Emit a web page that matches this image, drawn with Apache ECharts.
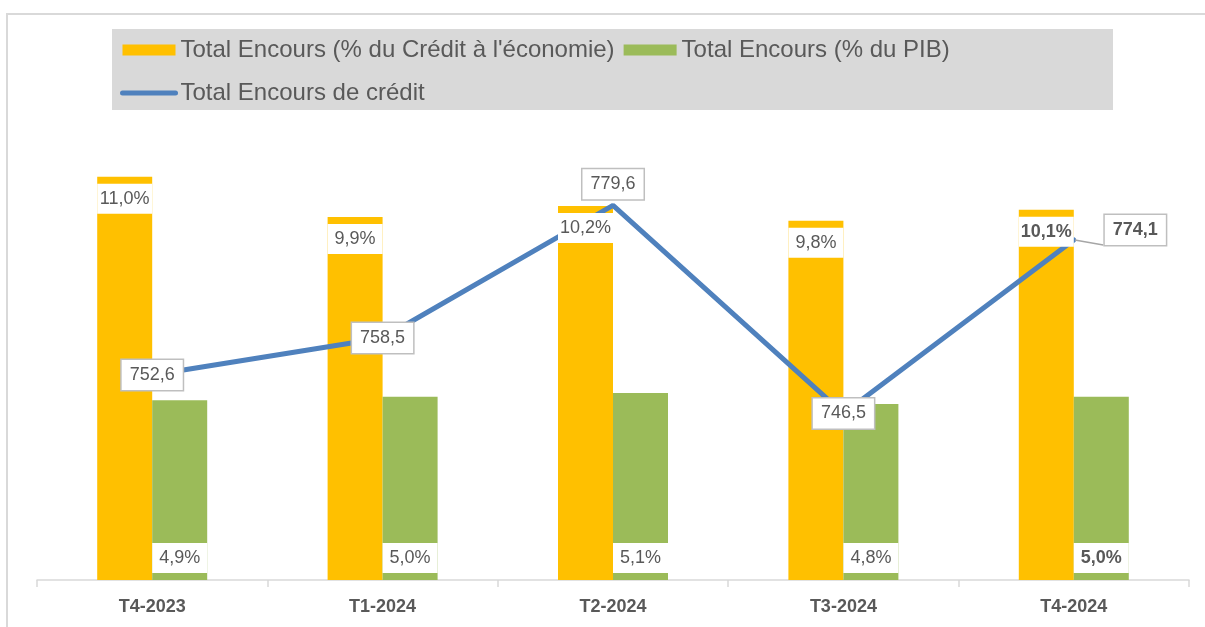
<!DOCTYPE html>
<html>
<head>
<meta charset="utf-8">
<script src="https://cdn.jsdelivr.net/npm/echarts@6/dist/echarts.min.js"></script>
<style>
html,body{margin:0;padding:0;background:#fff;}
#chart{width:1205px;height:627px;}
</style>
</head>
<body>
<div id="chart"></div>
<script>
const categories = ['T4-2023', 'T1-2024', 'T2-2024', 'T3-2024', 'T4-2024'];
const creditEconomie = [11.0, 9.9, 10.2, 9.8, 10.1];
const pib = [4.9, 5.0, 5.1, 4.8, 5.0];
const encours = [752.6, 758.5, 779.6, 746.5, 774.1];
const seriesNames = ["Total Encours (% du Crédit à l'économie)", 'Total Encours (% du PIB)', 'Total Encours de crédit'];

const FONT = '"Liberation Sans", Arial, sans-serif';
const TXT = '#595959';
const last = categories.length - 1;
const fmt = v => v.toFixed(1).replace('.', ',');

const chart = echarts.init(document.getElementById('chart'));

const barLabel = (pos) => ({
  show: true,
  position: pos,
  distance: 7,
  backgroundColor: '#fff',
  padding: [6, 0],
  width: 55,
  align: 'center',
  fontFamily: FONT,
  fontSize: 18,
  lineHeight: 18,
  color: TXT,
  formatter: p => fmt(p.value) + '%'
});

const orangeData = creditEconomie.map((v, i) => i === last ? {value: v, label: {fontWeight: 'bold'}} : v);
const greenData = pib.map((v, i) => i === last ? {value: v, label: {fontWeight: 'bold'}} : v);
const linePos = ['inside', 'inside', 'top', 'inside', 'right'];
const lineData = encours.map((v, i) => {
  const item = {value: v, label: {position: linePos[i]}};
  if (i === last) {
    item.label.fontWeight = 'bold';
    item.label.distance = 30;
    item.label.offset = [0, -10];
    item.labelLine = {show: true, lineStyle: {color: '#a6a6a6', width: 1.5}};
  }
  return item;
});

const clear = 'rgba(0,0,0,0)';

chart.setOption({
  animation: false,
  textStyle: {fontFamily: FONT},
  graphic: [
    {type: 'rect', z: -10, shape: {x: 7, y: 14, width: 1205, height: 620}, style: {fill: 'none', stroke: '#d9d9d9', lineWidth: 2}},
    {type: 'rect', z: -10, shape: {x: 112, y: 29, width: 1001, height: 81}, style: {fill: '#d9d9d9'}}
  ],
  legend: {
    left: 116,
    top: 29,
    width: 900,
    padding: [4, 0, 0, 4],
    itemGap: 9,
    itemWidth: 53,
    itemHeight: 11,
    textStyle: {fontFamily: FONT, fontSize: 24, color: TXT, lineHeight: 34},
    data: [
      {name: seriesNames[0], icon: 'rect'},
      {name: seriesNames[1], icon: 'rect'},
      {name: seriesNames[2], itemStyle: {opacity: 0}, lineStyle: {width: 5, cap: 'round', color: '#4f81bd'}}
    ]
  },
  grid: {left: 37, right: 16, top: 140, bottom: 47, containLabel: false},
  xAxis: [
    {
      type: 'category',
      data: categories,
      axisLine: {lineStyle: {color: '#d9d9d9', width: 1.5}},
      axisTick: {show: true, length: 7, lineStyle: {color: '#d9d9d9', width: 1.5}},
      axisLabel: {fontFamily: FONT, fontSize: 18, fontWeight: 'bold', color: TXT, margin: 18}
    },
    {type: 'category', data: categories, show: false}
  ],
  yAxis: [
    {type: 'value', min: 0, max: 12, show: false, splitLine: {show: false}},
    {type: 'value', min: 720, max: 790, show: false, splitLine: {show: false}}
  ],
  series: [
    {
      name: seriesNames[0], type: 'bar', xAxisIndex: 0, yAxisIndex: 0, data: creditEconomie,
      barWidth: 55, barGap: '0%', z: 2,
      itemStyle: {color: '#ffc000'}
    },
    {
      name: seriesNames[1], type: 'bar', xAxisIndex: 0, yAxisIndex: 0, data: pib,
      barWidth: 55, barGap: '0%', z: 2,
      itemStyle: {color: '#9bbb59'}
    },
    {
      name: seriesNames[2], type: 'line', xAxisIndex: 0, yAxisIndex: 1, data: lineData,
      symbol: 'circle', symbolSize: 2, showSymbol: true, z: 3,
      itemStyle: {color: '#4f81bd'},
      lineStyle: {color: '#4f81bd', width: 5, cap: 'round'},
      label: {
        show: true,
        backgroundColor: '#fff',
        borderColor: '#bfbfbf',
        borderWidth: 1.5,
        padding: [5, 8],
        fontFamily: FONT,
        fontSize: 18,
        lineHeight: 20,
        color: TXT,
        formatter: p => fmt(p.value)
      }
    },
    {
      name: 'labels-credit', type: 'bar', xAxisIndex: 1, yAxisIndex: 0, data: orangeData,
      barWidth: 55, barGap: '0%', z: 4, silent: true,
      itemStyle: {color: clear},
      label: barLabel('insideTop')
    },
    {
      name: 'labels-pib', type: 'bar', xAxisIndex: 1, yAxisIndex: 0, data: greenData,
      barWidth: 55, barGap: '0%', z: 4, silent: true,
      itemStyle: {color: clear},
      label: barLabel('insideBottom')
    }
  ]
});
</script>
</body>
</html>
